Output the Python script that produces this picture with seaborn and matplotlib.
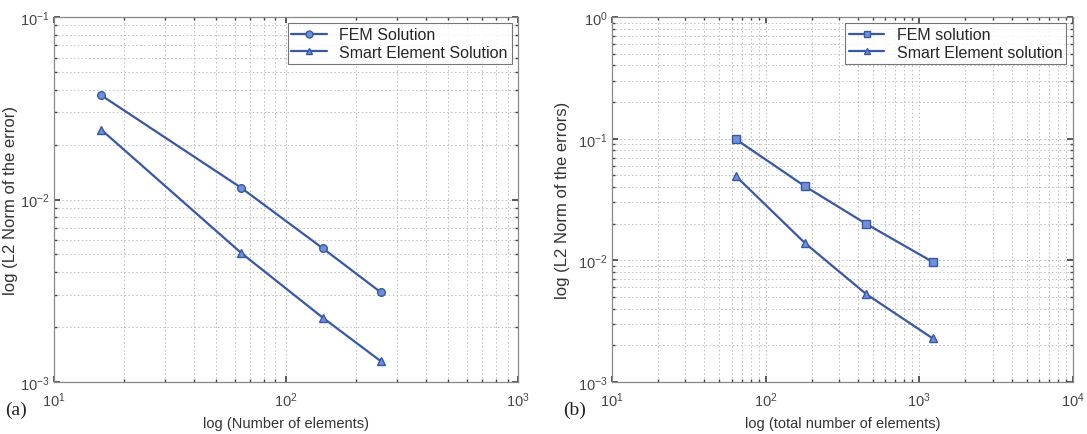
import numpy as np
import pandas as pd
import seaborn as sns
import matplotlib
matplotlib.use("Agg")
import matplotlib.pyplot as plt
from matplotlib.lines import Line2D
from matplotlib.ticker import LogLocator, NullFormatter

# (a) error vs number of elements
n_elem_a = [16, 64, 144, 256]
fem_a = [0.0372, 0.0116, 0.0054, 0.0031]
smart_a = [0.0241, 0.0051, 0.00225, 0.0013]

# (b) error vs total number of elements
n_elem_b = [64, 180, 450, 1225]
fem_b = [0.0990, 0.0407, 0.0200, 0.0097]
smart_b = [0.0493, 0.0139, 0.0053, 0.00228]

labels_a = ["FEM Solution", "Smart Element Solution"]
labels_b = ["FEM solution", "Smart Element solution"]

sns.set_theme(style="white")
plt.rcParams["font.family"] = ["Liberation Sans", "DejaVu Sans"]
plt.rcParams["mathtext.fontset"] = "custom"
plt.rcParams["mathtext.rm"] = "Liberation Sans"

LINE = "#3657ab"
FACE = "#6f8fd8"

fig = plt.figure(figsize=(10.87, 4.35), dpi=100)
ax1 = fig.add_axes([0.0497, 0.1195, 0.427, 0.839])
ax2 = fig.add_axes([0.563, 0.1195, 0.424, 0.839])


def draw(ax, x, y1, y2, labels, m1, xlim, ylim, xlabel, ylabel, tag, ylab_x):
    df = pd.DataFrame({
        "n": list(x) + list(x),
        "err": list(y1) + list(y2),
        "series": [labels[0]] * len(x) + [labels[1]] * len(x),
    })
    sns.lineplot(data=df, x="n", y="err", hue="series", style="series",
                 palette=[LINE, LINE], markers=[m1, "^"], dashes=False,
                 markersize=5.5, markeredgecolor=LINE, markerfacecolor=FACE,
                 markeredgewidth=1.0, linewidth=1.6, ax=ax, legend=False)
    ax.set_xscale("log")
    ax.set_yscale("log")
    ax.set_xlim(*xlim)
    ax.set_ylim(*ylim)
    ax.xaxis.set_major_locator(LogLocator(base=10, numticks=10))
    ax.yaxis.set_major_locator(LogLocator(base=10, numticks=10))
    ax.xaxis.set_minor_locator(LogLocator(base=10, subs=np.arange(2, 10), numticks=50))
    ax.yaxis.set_minor_locator(LogLocator(base=10, subs=np.arange(2, 10), numticks=50))
    ax.xaxis.set_minor_formatter(NullFormatter())
    ax.yaxis.set_minor_formatter(NullFormatter())
    ax.grid(True, which="both", color="#bdbdbd", linestyle=(0, (1.5, 2.5)), linewidth=0.7)
    ax.tick_params(which="both", direction="in", labelsize=10.5, colors="#444444",
                   top=True, right=True, bottom=True, left=True)
    ax.tick_params(axis="x", which="major", length=4, pad=6)
    ax.tick_params(axis="y", which="major", length=4, pad=3)
    ax.tick_params(which="minor", length=2)
    for s in ax.spines.values():
        s.set_color("#888888")
        s.set_linewidth(0.9)
    ax.set_xlabel(xlabel, fontsize=10.5, color="#333333", labelpad=5)
    ax.set_ylabel(ylabel, fontsize=12, color="#333333")
    ax.yaxis.set_label_coords(ylab_x, 0.5)
    handles = [
        Line2D([], [], color=LINE, marker=m1, markersize=5, markerfacecolor=FACE,
               markeredgecolor=LINE, linewidth=1.6),
        Line2D([], [], color=LINE, marker="^", markersize=5, markerfacecolor=FACE,
               markeredgecolor=LINE, linewidth=1.6),
    ]
    leg = ax.legend(handles, labels, loc="upper right", fontsize=11.5, frameon=True,
                    fancybox=False, handlelength=2.2, borderpad=0.25,
                    labelspacing=0.15, borderaxespad=0.4)
    leg.get_frame().set_edgecolor("#555555")
    leg.get_frame().set_linewidth(0.8)
    ax.text(-0.106, -0.05, tag, transform=ax.transAxes, fontsize=14,
            family="Liberation Serif", ha="left", va="top", color="#222222")


draw(ax1, n_elem_a, fem_a, smart_a, labels_a, "o", (10, 1000), (1e-3, 1e-1),
     "log (Number of elements)", "log (L2 Norm of the error)", "(a)", -0.078)
draw(ax2, n_elem_b, fem_b, smart_b, labels_b, "s", (10, 1e4), (1e-3, 1),
     "log (total number of elements)", "log (L2 Norm of the errors)", "(b)", -0.091)

fig.savefig("out.png", dpi=100)
